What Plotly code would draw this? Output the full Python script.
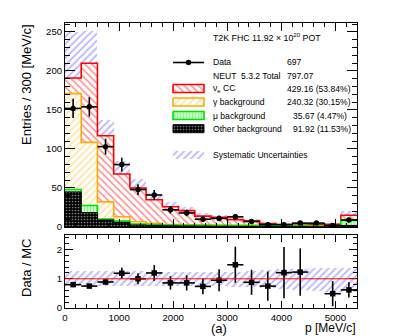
import plotly.graph_objects as go

# ---------------- data ----------------
bin_edges = [0, 300, 600, 900, 1200, 1500, 1800, 2100, 2400, 2700, 3000,
             3300, 3600, 3900, 4200, 4500, 4800, 5100, 5400]
bin_centers = [150, 450, 750, 1050, 1350, 1650, 1950, 2250, 2550, 2850, 3150,
               3450, 3750, 4050, 4350, 4650, 4950, 5250]

data_counts = [152, 154, 103, 80, 48, 41, 22, 18, 10, 11, 13, 7, 3, 3, 5, 5, 2, 9]
data_err = [12.3, 12.4, 10.1, 8.9, 6.9, 6.4, 4.7, 4.2, 3.2, 3.3, 3.6, 2.6, 1.7, 1.7, 2.2, 2.2, 1.4, 3.0]

other_bkg = [45, 18.5, 9, 6, 2.6, 2, 1.5, 1.2, 1.0, 0.8, 0.7, 0.6, 0.5, 0.4, 0.4, 0.3, 0.3, 2.0]
mu_bkg = [3, 9, 1.2, 1.7, 1.2, 1.0, 1.1, 1.1, 1.1, 1.1, 1.1, 1.1, 1.1, 1.1, 1.1, 1.0, 1.0, 6.5]
gamma_bkg = [123, 81, 22, 5.5, 3, 1.7, 0.6, 0.5, 0.5, 0.5, 0.4, 0.4, 0.3, 0.3, 0.3, 0.3, 0.3, 0.5]
nue_cc = [20, 101.5, 84.8, 54.8, 43.2, 30.3, 22.8, 18.2, 11.4, 10.1, 7.3, 5.9, 2.6, 1.2, 2.2, 1.9, 1.9, 6.0]

syst_upper = [250, 251, 137, 85, 62, 44, 32, 26, 18, 16, 12, 10, 6, 4.5, 5.5, 5, 5, 20]
syst_lower = [132, 169, 95, 48, 38, 26, 19, 15, 10, 9, 7, 6, 3, 2, 2.5, 2, 2, 10]

ratio = [0.80, 0.75, 0.89, 1.19, 1.00, 1.20, 0.86, 0.86, 0.74, 0.95, 1.48, 0.88,
         0.75, 1.21, 1.23, None, 0.49, 0.62]
ratio_err = [0.07, 0.06, 0.09, 0.19, 0.19, 0.27, 0.23, 0.26, 0.27, 0.38, 0.62, 0.43,
             0.50, 0.88, 0.81, 0, 0.43, 0.26]
ratio_band_upper = [1.27, 1.27, 1.27, 1.26, 1.26, 1.25, 1.24, 1.24, 1.24, 1.25, 1.25,
                    1.26, 1.30, 1.33, 1.35, 1.37, 1.38, 1.38]
ratio_band_lower = [0.77, 0.77, 0.77, 0.76, 0.76, 0.76, 0.75, 0.75, 0.75, 0.74, 0.73,
                    0.72, 0.68, 0.64, 0.60, 0.58, 0.56, 0.55]

legend_labels = ["Data", "NEUT  5.3.2 Total", "ν<sub>e</sub> CC", "γ background",
                 "μ background", "Other background", "Systematic Uncertainties"]
legend_values = ["697", "797.07", "429.16 (53.84%)", "240.32 (30.15%)",
                 "35.67 (4.47%)", "91.92 (11.53%)", ""]

FONT = "Liberation Sans, Arial, sans-serif"

# plot-area geometry in pixels (for converting layout positions)
PL, PR, PT, PB = 65, 357, 23, 308


def px(xpix):
    return (xpix - PL) / (PR - PL)


def py(ypix):
    return (PB - ypix) / (PB - PT)


# cumulative stacks
cum_mu = [a + b for a, b in zip(other_bkg, mu_bkg)]
cum_gamma = [a + b for a, b in zip(cum_mu, gamma_bkg)]
cum_total = [a + b for a, b in zip(cum_gamma, nue_cc)]
widths = [b - a for a, b in zip(bin_edges[:-1], bin_edges[1:])]


def step_y(vals):
    return list(vals) + [vals[-1]]


BLUE_PAT = dict(shape="/", fgcolor="#7070ff", bgcolor="rgba(0,0,0,0)", size=5, solidity=0.35)

fig = go.Figure()

# systematic band (top)
fig.add_trace(go.Bar(
    x=bin_centers, y=[u - l for u, l in zip(syst_upper, syst_lower)], base=syst_lower,
    width=widths, marker=dict(color="rgba(0,0,0,0)", line=dict(width=0), pattern=BLUE_PAT),
    xaxis="x", yaxis="y", showlegend=False))

stack_specs = [
    (cum_total, "#ff0000", dict(shape="\\", fgcolor="#ff2020", bgcolor="white", size=5, solidity=0.33), 1.6),
    (cum_gamma, "#ffaa00", dict(shape="/", fgcolor="#ffc840", bgcolor="white", size=5, solidity=0.33), 1.6),
    (cum_mu, "#00e000", dict(shape="|", fgcolor="#00ff00", bgcolor="white", size=3, solidity=0.6), 1.6),
    (other_bkg, "#000000", dict(shape=".", fgcolor="white", bgcolor="black", size=3, solidity=0.25), 1.0),
]
for vals, col, pat, lw in stack_specs:
    fig.add_trace(go.Scatter(
        x=bin_edges, y=step_y(vals), mode="lines", line=dict(color=col, width=lw, shape="hv"),
        fill="tozeroy", fillcolor="white", fillpattern=pat,
        xaxis="x", yaxis="y", showlegend=False, hoverinfo="skip"))

# data points
fig.add_trace(go.Scatter(
    x=bin_centers, y=data_counts, mode="markers",
    marker=dict(symbol="circle", size=5.5, color="black"),
    error_y=dict(type="data", array=data_err, color="black", thickness=1.6, width=0),
    error_x=dict(type="data", array=[w / 2 for w in widths], color="black", thickness=1.6, width=0),
    xaxis="x", yaxis="y", showlegend=False))

# ratio band
fig.add_trace(go.Bar(
    x=bin_centers, y=[u - l for u, l in zip(ratio_band_upper, ratio_band_lower)], base=ratio_band_lower,
    width=widths, marker=dict(color="rgba(0,0,0,0)", line=dict(width=0), pattern=BLUE_PAT),
    xaxis="x2", yaxis="y2", showlegend=False))

fig.add_trace(go.Scatter(
    x=bin_centers, y=ratio, mode="markers",
    marker=dict(symbol="square", size=5.5, color="black"),
    error_y=dict(type="data", array=ratio_err, color="black", thickness=1.6, width=0),
    error_x=dict(type="data", array=[w / 2 for w in widths], color="black", thickness=1.6, width=0),
    xaxis="x2", yaxis="y2", showlegend=False))


# ---------------- legend (pixel-like overlay axes) ----------------
def rect(x0, y0, x1, y1, line_col, pat, lw=1.2, fillcolor="white"):
    fig.add_trace(go.Scatter(
        x=[x0, x1, x1, x0, x0], y=[y0, y0, y1, y1, y0], mode="lines",
        line=dict(color=line_col, width=lw), fill="toself", fillcolor=fillcolor,
        fillpattern=pat, xaxis="x3", yaxis="y3", showlegend=False, hoverinfo="skip"))


row_y = [62.5, 76, 88.5, 102, 115.5, 128.7, 155]
sx0, sx1 = 173, 204
fig.add_trace(go.Scatter(x=[sx0, sx1], y=[row_y[0], row_y[0]], mode="lines",
                         line=dict(color="black", width=1.6), xaxis="x3", yaxis="y3",
                         showlegend=False, hoverinfo="skip"))
fig.add_trace(go.Scatter(x=[(sx0 + sx1) / 2], y=[row_y[0]], mode="markers",
                         marker=dict(symbol="circle", size=5.5, color="black"),
                         xaxis="x3", yaxis="y3", showlegend=False, hoverinfo="skip"))
hh = 4
rect(sx0, row_y[2] - hh, sx1, row_y[2] + hh, "#ff0000", stack_specs[0][2], 1.6)
rect(sx0, row_y[3] - hh, sx1, row_y[3] + hh, "#ffaa00", stack_specs[1][2], 1.6)
rect(sx0, row_y[4] - hh, sx1, row_y[4] + hh, "#00e000", stack_specs[2][2], 1.6)
rect(sx0, row_y[5] - hh, sx1, row_y[5] + hh, "#000000", stack_specs[3][2], 1.0)
rect(sx0, row_y[6] - hh, sx1, row_y[6] + hh, "rgba(0,0,0,0)", BLUE_PAT, 0,
     fillcolor="rgba(0,0,0,0)")

annotations = []
value_x = [285, 285, 285, 285, 290.5, 290.5, 285]
for lab, val, yy, vx in zip(legend_labels, legend_values, row_y, value_x):
    annotations.append(dict(x=px(211), y=py(yy), xref="paper", yref="paper", text=lab,
                            showarrow=False, xanchor="left", yanchor="middle",
                            font=dict(family=FONT, size=8.6, color="black")))
    if val:
        annotations.append(dict(x=px(vx), y=py(yy), xref="paper", yref="paper", text=val,
                                showarrow=False, xanchor="left", yanchor="middle",
                                font=dict(family=FONT, size=8.6, color="black")))
annotations.append(dict(x=px(210.5), y=py(37), xref="paper", yref="paper",
                        text="T2K FHC 11.92 × 10<sup>20</sup> POT", showarrow=False,
                        xanchor="left", yanchor="middle",
                        font=dict(family=FONT, size=8.8, color="black")))
# axis titles
annotations.append(dict(x=px(26), y=py(85), xref="paper", yref="paper",
                        text="Entries / 300 [MeV/c]", textangle=-90, showarrow=False,
                        xanchor="center", yanchor="middle",
                        font=dict(family=FONT, size=13, color="black")))
annotations.append(dict(x=px(26), y=py(268), xref="paper", yref="paper", text="Data / MC",
                        textangle=-90, showarrow=False, xanchor="center", yanchor="middle",
                        font=dict(family=FONT, size=13, color="black")))
annotations.append(dict(x=px(358), y=py(328), xref="paper", yref="paper", text="p [MeV/c]",
                        showarrow=False, xanchor="right", yanchor="middle",
                        font=dict(family=FONT, size=12, color="black")))
annotations.append(dict(x=px(219.5), y=py(328), xref="paper", yref="paper", text="(a)",
                        showarrow=False, xanchor="center", yanchor="middle",
                        font=dict(family=FONT, size=13, color="black")))

axis_common = dict(showline=True, linecolor="black", linewidth=1, mirror="ticks",
                   ticks="inside", tickcolor="black", tickwidth=1, showgrid=False,
                   zeroline=False, tickfont=dict(family=FONT, size=9.6, color="black"))

fig.update_layout(
    width=411, height=336,
    margin=dict(l=PL, r=411 - PR, t=PT, b=336 - PB, pad=0),
    paper_bgcolor="white", plot_bgcolor="rgba(0,0,0,0)",
    barmode="overlay", bargap=0,
    showlegend=False,
    annotations=annotations,
    shapes=[dict(type="line", xref="x2 domain", yref="y2", x0=0, x1=1, y0=1, y1=1,
                 line=dict(color="#ff0000", width=1), layer="above")],
    xaxis=dict(domain=[0, 1], anchor="y", range=[0, 5400], dtick=1000, ticklen=8,
               showticklabels=False, minor=dict(ticks="inside", dtick=200, ticklen=4, tickcolor="black"),
               **axis_common),
    yaxis=dict(domain=[py(227), 1], anchor="x", range=[0, 261.5], dtick=50, ticklen=10,
               minor=dict(ticks="inside", dtick=10, ticklen=5, tickcolor="black"),
               **axis_common),
    xaxis2=dict(domain=[0, 1], anchor="y2", range=[0, 5400], dtick=1000, ticklen=7,
                minor=dict(ticks="inside", dtick=200, ticklen=4, tickcolor="black"),
                **axis_common),
    yaxis2=dict(domain=[0, py(235)], anchor="x2", range=[0, 2.5], dtick=1, ticklen=8,
                minor=dict(ticks="inside", dtick=0.2, ticklen=4, tickcolor="black"),
                **axis_common),
    xaxis3=dict(domain=[0, 1], anchor="y3", range=[PL, PR], visible=False, fixedrange=True),
    yaxis3=dict(domain=[0, 1], anchor="x3", range=[PB, PT], visible=False, fixedrange=True),
)

fig.write_html("out.html", config={"displayModeBar": False},
               post_script="document.body.style.margin='0';document.body.style.padding='0';"
                           "document.body.style.overflow='hidden';")
